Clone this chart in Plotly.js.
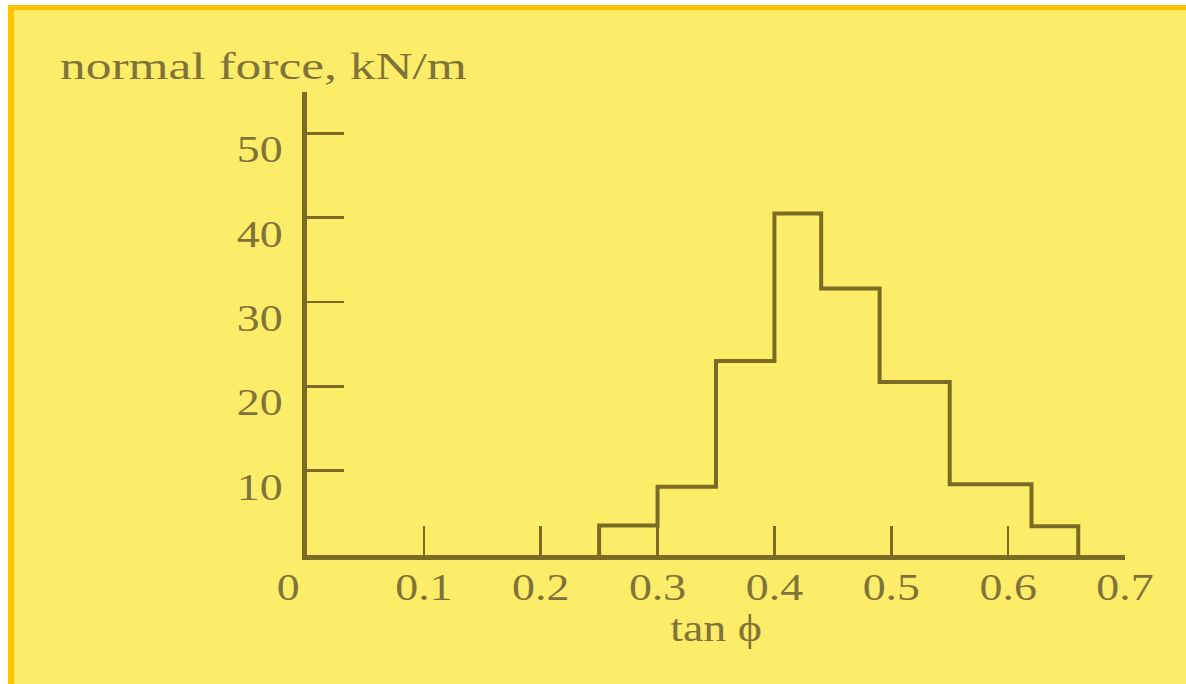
<!DOCTYPE html>
<html>
<head>
<meta charset="utf-8">
<script src="https://cdn.plot.ly/plotly-3.0.1.min.js"></script>
<style>
  html, body { margin: 0; padding: 0; background: #ffffff; }
  #frame {
    position: absolute; left: 8px; top: 5px; width: 1172px; height: 677px;
    background: #FDEC68; border-left: 6px solid #FFC000; border-top: 5px solid #FFC000;
    border-bottom: 2px solid #FFC000;
  }
  #chart { position: absolute; left: 0; top: 0; width: 1186px; height: 684px; }
</style>
</head>
<body>
<div id="frame"></div>
<div id="chart"></div>
<script>
// Histogram bin edges (tan phi) and heights (normal force, kN/m)
const binEdges = [0.25, 0.30, 0.35, 0.40, 0.44, 0.49, 0.55, 0.62, 0.66];
const binValues = [3.5, 8.1, 23, 40.5, 31.6, 20.5, 8.4, 3.4];
const xTickVals = [0.1, 0.2, 0.3, 0.4, 0.5, 0.6, 0.7];
const xTickText = ['0.1', '0.2', '0.3', '0.4', '0.5', '0.6', '0.7'];
const yTickVals = [10, 20, 30, 40, 50];
const yTickText = ['10', '20', '30', '40', '50'];
const yLabel = 'normal force, kN/m';
const xLabel = 'tan \u03d5';

// Build step outline from bins
const sx = [binEdges[0]], sy = [0];
for (let i = 0; i < binValues.length; i++) { sx.push(binEdges[i]); sy.push(binValues[i]); }
sx.push(binEdges[binEdges.length - 1]); sy.push(0);

const ink = '#7B6B24';
const txt = '#80733A';
const fnt = {family: 'Liberation Serif, Times New Roman, serif', size: 37, color: txt};

const data = [{
  type: 'scatter', mode: 'lines', x: sx, y: sy,
  line: {shape: 'hv', color: ink, width: 4},
  hoverinfo: 'skip', showlegend: false, cliponaxis: false
}];

const layout = {
  width: 1186, height: 684,
  paper_bgcolor: 'rgba(0,0,0,0)', plot_bgcolor: 'rgba(0,0,0,0)',
  margin: {l: 307, r: 61, t: 92, b: 129, pad: 0},
  showlegend: false,
  title: {text: yLabel, font: fnt, xref: 'container', x: 60 / 1186, xanchor: 'left',
          yref: 'container', y: 1 - 66 / 684, yanchor: 'middle'},
  xaxis: {
    range: [0, 0.7], tickvals: xTickVals, ticktext: xTickText,
    ticks: 'inside', ticklen: 29, tickwidth: 2.5, tickcolor: ink,
    showline: true, linecolor: ink, linewidth: 5, showgrid: false, zeroline: false,
    tickfont: fnt, fixedrange: true, ticklabelstandoff: -4,
    title: {text: xLabel, font: fnt, standoff: 0}
  },
  yaxis: {
    range: [0, 54.9], tickvals: yTickVals, ticktext: yTickText,
    ticks: 'inside', ticklen: 37, tickwidth: 2.5, tickcolor: ink,
    showline: true, linecolor: ink, linewidth: 5, showgrid: false, zeroline: false,
    tickfont: fnt, fixedrange: true, ticklabelshift: 16, ticklabelstandoff: 12
  },
  annotations: [{
    text: '0', x: 0, y: 0, xref: 'x', yref: 'y', xanchor: 'center', yanchor: 'top',
    xshift: -19, yshift: -10, showarrow: false, font: fnt
  }]
};

const gd = document.getElementById('chart');
Plotly.newPlot(gd, data, layout, {staticPlot: true, displayModeBar: false}).then(function () {
  // The reference artwork is horizontally stretched; widen the glyphs to match.
  gd.querySelectorAll('text').forEach(function (t) {
    const isTitle = t.classList.contains('gtitle');
    const s = isTitle ? 1.39 : 1.24;
    const x = parseFloat(t.getAttribute('x') || '0');
    const tr = t.getAttribute('transform') || '';
    t.setAttribute('transform', tr + ' translate(' + x + ',0) scale(' + s + ',1) translate(' + (-x) + ',0)');
  });
});
</script>
</body>
</html>
